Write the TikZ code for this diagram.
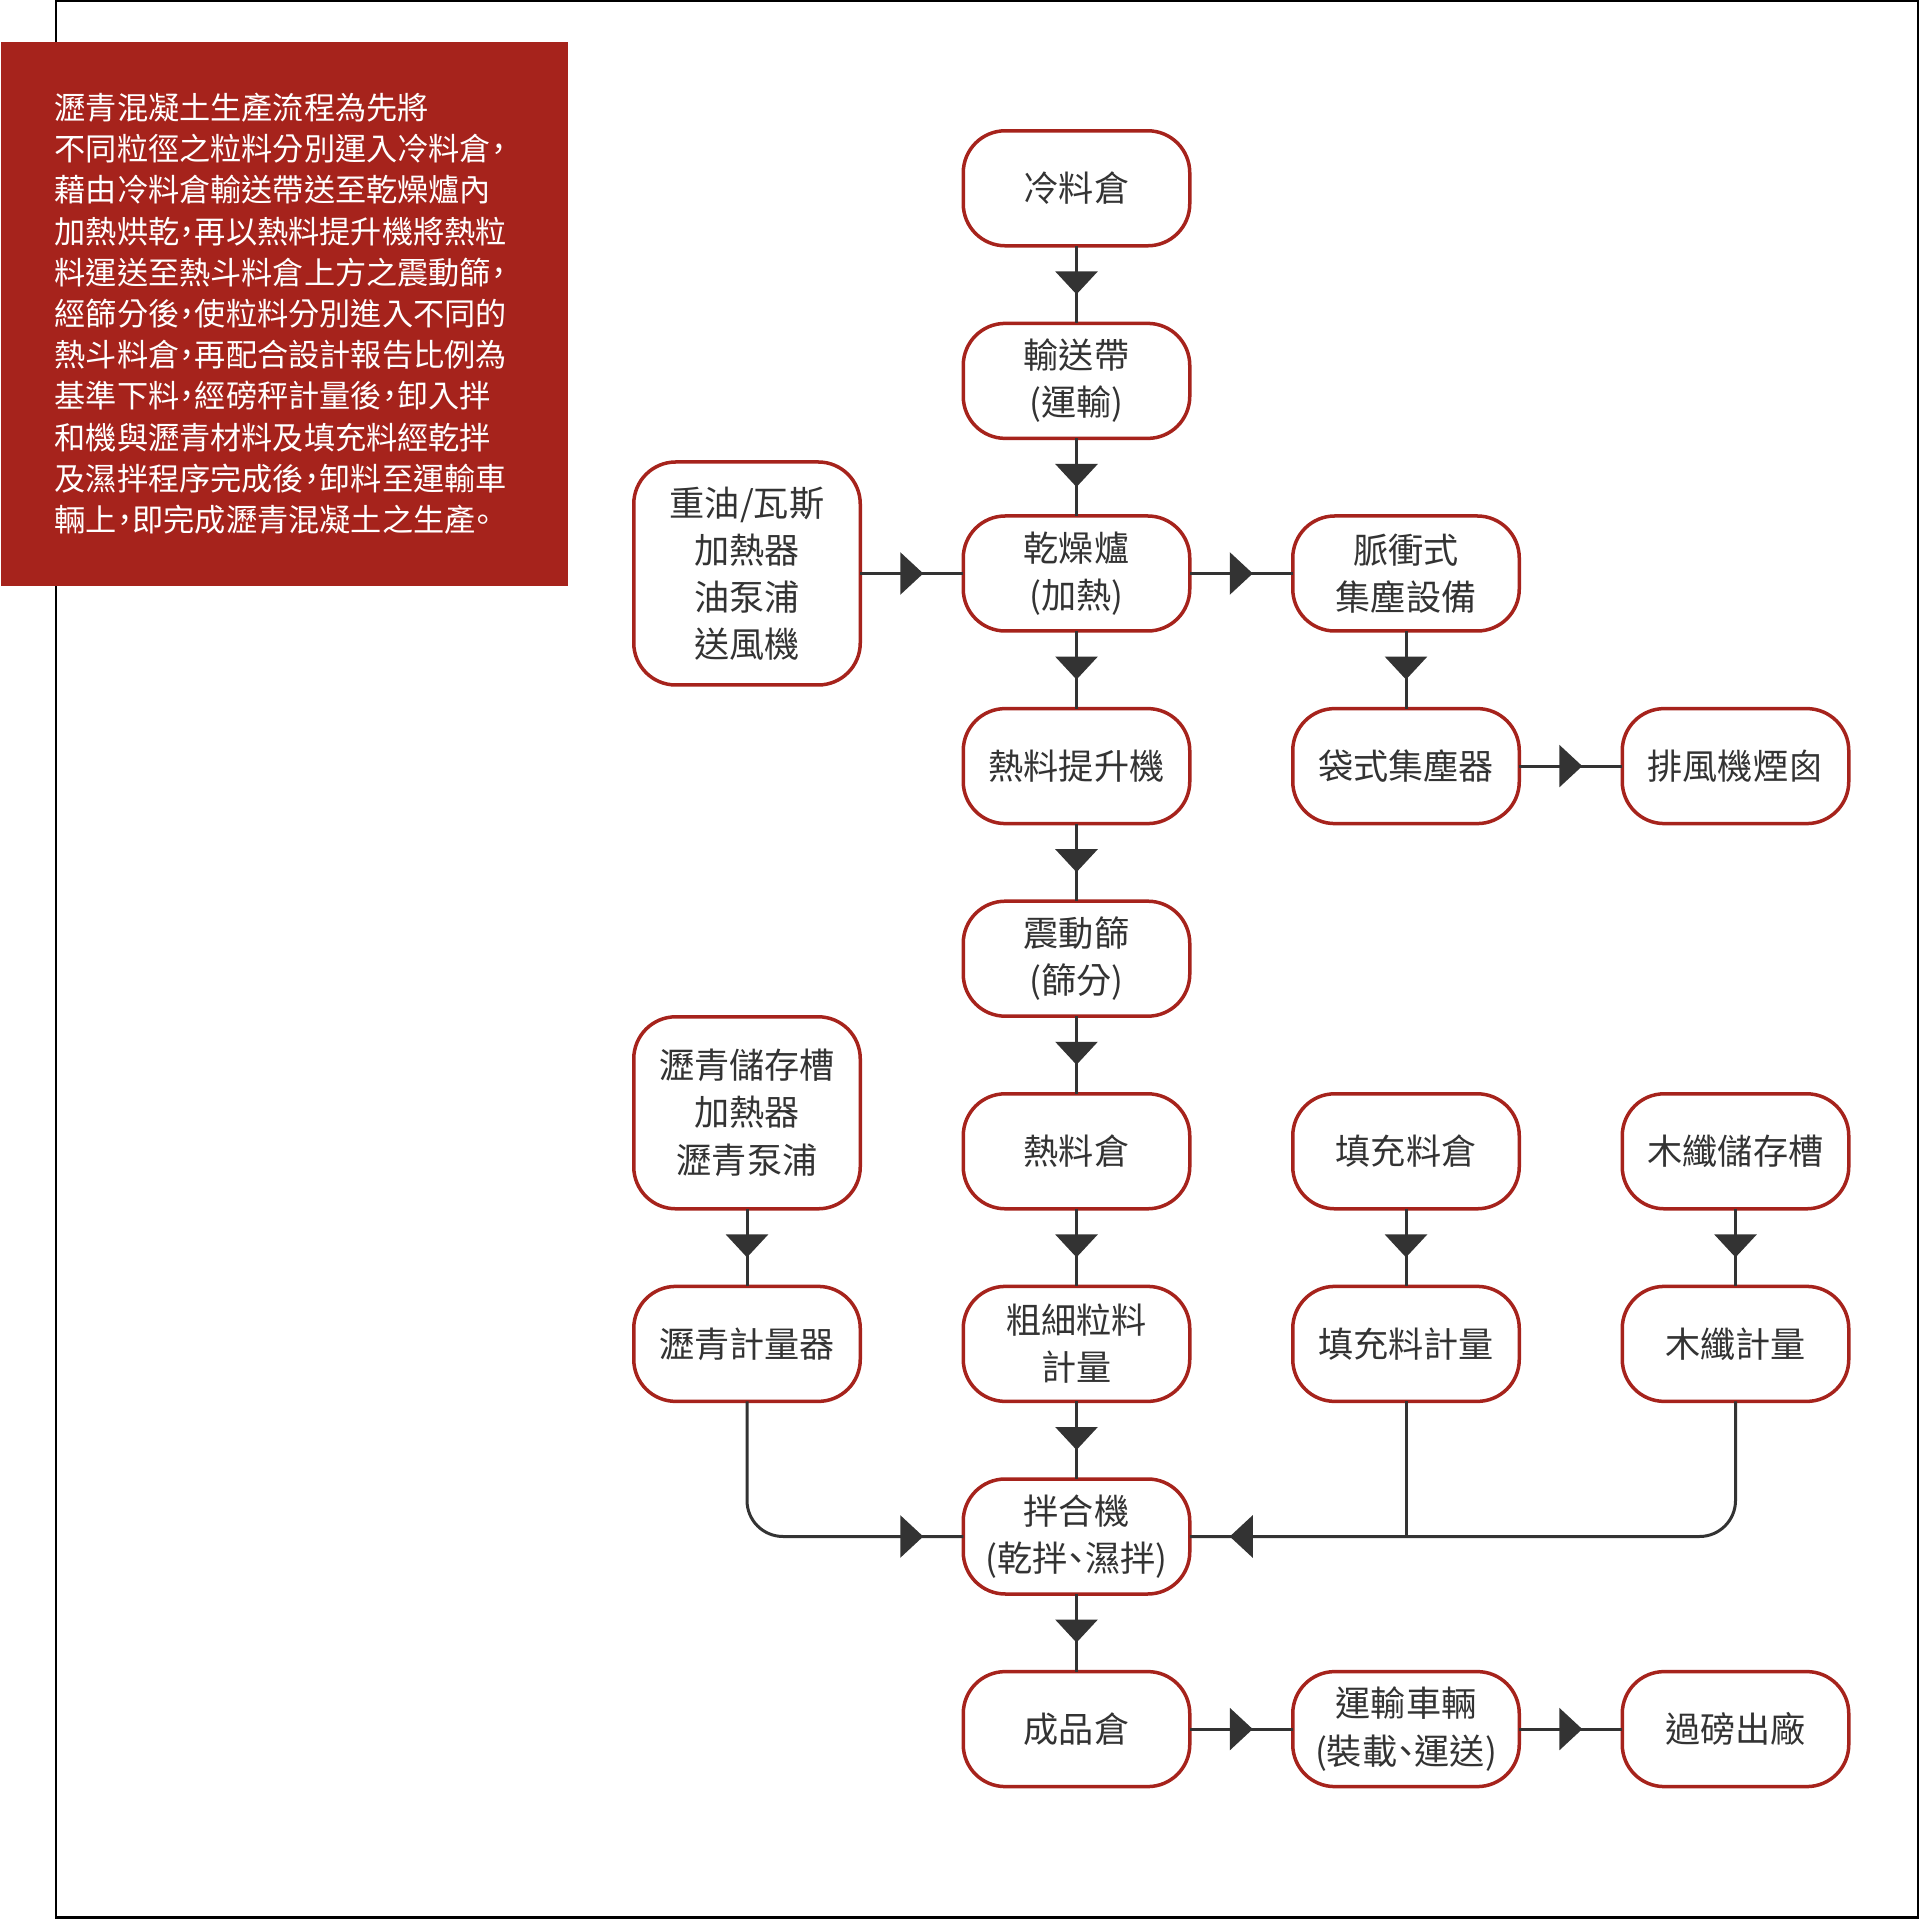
\documentclass[tikz,border=0pt]{standalone}
\usepackage{fontspec}
\setmainfont{Noto Sans CJK TC}[RawFeature=+halt]
\newfontfamily\notefont{Noto Sans CJK TC}[RawFeature=+halt]
\usepackage{tikz}
\usetikzlibrary{arrows.meta, positioning, decorations.markings}
\definecolor{brick}{HTML}{A6231C}
\definecolor{linegray}{HTML}{333333}

\begin{document}
\begin{tikzpicture}[
  node distance=0.776cm and 1.03cm,
  station/.style={rectangle, draw=brick, line width=0.035cm, rounded corners=0.42cm, fill=white, align=center, minimum width=2.265cm, minimum height=1.15cm, outer sep=0pt, text=linegray, font=\fontsize{10}{13.4}\selectfont},
  flow/.style={draw=linegray, line width=0.03cm, rounded corners=0.36cm, postaction={decorate}, decoration={markings, mark=at position -#1 with {\arrow{Triangle[length=0.23cm, width=0.42cm]}}}},
  flow/.default=0.29cm,
  joint/.style={draw=linegray, line width=0.03cm},
  note/.style={rectangle, fill=brick, text=white, align=left, anchor=north west, minimum width=5.67cm, minimum height=5.44cm, text width=4.59cm, inner xsep=0.54cm, inner ysep=0pt, font=\notefont\fontsize{8.87}{11.72}\selectfont}
]
\useasboundingbox (0,0) rectangle (19.2,19.19);
\draw[line width=0.025cm, black] (0.56,0.015) rectangle (19.18,19.18);

% Intro
\node[note] (intro) at (0,18.78) {瀝青混凝土生產流程為先將\\不同粒徑之粒料分別運入冷料倉，\\藉由冷料倉輸送帶送至乾燥爐內\\加熱烘乾，再以熱料提升機將熱粒\\料運送至熱斗料倉上方之震動篩，\\經篩分後，使粒料分別進入不同的\\熱斗料倉，再配合設計報告比例為\\基準下料，經磅秤計量後，卸入拌\\和機與瀝青材料及填充料經乾拌\\及濕拌程序完成後，卸料至運輸車\\輛上，即完成瀝青混凝土之生產。};

% Nodes
\node[station] (cold) at (10.765,17.307) {冷料倉};
\node[station, below=of cold] (conveyor) {輸送帶\\(運輸)};
\node[station, below=of conveyor] (dryer) {乾燥爐\\(加熱)};
\node[station, minimum height=2.23cm, left=of dryer] (burner) {重油/瓦斯\\加熱器\\油泵浦\\送風機};
\node[station, right=of dryer] (pulse) {脈衝式\\集塵設備};
\node[station, below=of dryer] (elevator) {熱料提升機};
\node[station, below=of pulse] (baghouse) {袋式集塵器};
\node[station, right=of baghouse] (stack) {排風機煙囪};
\node[station, below=of elevator] (screen) {震動篩\\(篩分)};
\node[station, below=of screen] (hotbin) {熱料倉};
\node[station, right=of hotbin] (fillerbin) {填充料倉};
\node[station, right=of fillerbin] (fiberbin) {木纖儲存槽};
\node[station, below=of hotbin] (aggscale) {粗細粒料\\計量};
\node[station, left=of aggscale] (asphscale) {瀝青計量器};
\node[station, minimum height=1.92cm, above=of asphscale] (asphtank) {瀝青儲存槽\\加熱器\\瀝青泵浦};
\node[station, below=of fillerbin] (fillerscale) {填充料計量};
\node[station, below=of fiberbin] (fiberscale) {木纖計量};
\node[station, below=of aggscale] (mixer) {拌合機\\(乾拌、濕拌)};
\node[station, below=of mixer] (product) {成品倉};
\node[station, right=of product] (truck) {運輸車輛\\(裝載、運送)};
\node[station, right=of truck] (weigh) {過磅出廠};

% Arrows
\draw[flow] (cold) -- (conveyor);
\draw[flow] (conveyor) -- (dryer);
\draw[flow=0.4cm] (burner) -- (dryer);
\draw[flow=0.4cm] (dryer) -- (pulse);
\draw[flow] (dryer) -- (elevator);
\draw[flow] (pulse) -- (baghouse);
\draw[flow=0.4cm] (baghouse) -- (stack);
\draw[flow] (elevator) -- (screen);
\draw[flow] (screen) -- (hotbin);
\draw[flow] (hotbin) -- (aggscale);
\draw[flow] (fillerbin) -- (fillerscale);
\draw[flow] (fiberbin) -- (fiberscale);
\draw[flow] (asphtank) -- (asphscale);
\draw[flow] (aggscale) -- (mixer);
\draw[flow=0.4cm] (asphscale.south) |- (mixer.west);
\draw[flow=0.4cm] (fiberscale.south) |- (mixer.east);
\draw[joint] (fillerscale.south) -- (fillerscale.south |- mixer.east);
\draw[flow] (mixer) -- (product);
\draw[flow=0.4cm] (product) -- (truck);
\draw[flow=0.4cm] (truck) -- (weigh);

\end{tikzpicture}
\end{document}
